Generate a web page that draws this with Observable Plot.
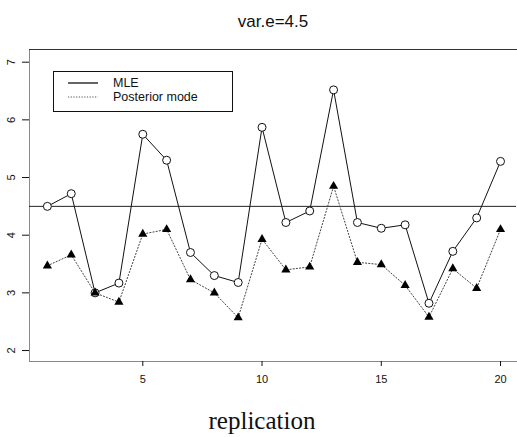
<!DOCTYPE html>
<html>
<head>
<meta charset="utf-8">
<script src="https://cdn.jsdelivr.net/npm/d3@7"></script>
<script src="https://cdn.jsdelivr.net/npm/@observablehq/plot@0.6"></script>
<style>
  html, body { margin: 0; padding: 0; background: #fff; }
  #wrap { position: relative; width: 517px; height: 437px; }
  #legend { position: absolute; left: 53px; top: 71px; width: 178px; height: 39px;
            border: 1.5px solid #111; background: #fff; font-family: "Liberation Sans", Arial, sans-serif;
            font-size: 12.5px; color: #111; }
  #legend .row { position: absolute; left: 0; height: 14px; }
  #legend svg { position: absolute; left: 14px; }
  #legend span { position: absolute; left: 59px; white-space: nowrap; line-height: 14px; }
</style>
</head>
<body>
<div id="wrap"></div>
<script>
const replication = [1,2,3,4,5,6,7,8,9,10,11,12,13,14,15,16,17,18,19,20];
const mle = [4.50,4.72,3.00,3.17,5.75,5.30,3.70,3.30,3.18,5.87,4.22,4.42,6.52,4.22,4.12,4.18,2.82,3.72,4.30,5.28];
const postMode = [3.47,3.66,3.00,2.84,4.02,4.10,3.23,3.00,2.57,3.93,3.40,3.45,4.85,3.53,3.49,3.13,2.58,3.42,3.08,4.10];
const trueValue = [4.5];
const xTicks = [5,10,15,20];
const yTicks = [2,3,4,5,6,7];
const titleText = "var.e=4.5";
const xLabel = "replication";
const seriesNames = ["MLE", "Posterior mode"];

const mleData = replication.map((r,i) => ({r, v: mle[i]}));
const pmData = replication.map((r,i) => ({r, v: postMode[i]}));

const chart = Plot.plot({
  width: 517,
  height: 437,
  marginTop: 49,
  marginBottom: 76,
  marginLeft: 29,
  marginRight: 1,
  style: {fontFamily: "'Liberation Sans', Arial, sans-serif", fontSize: "11px", color: "#111", background: "#fff"},
  x: {domain: [0.25, 20.67]},
  y: {domain: [1.81, 7.22]},
  marks: [
    Plot.frame({anchor: "left", stroke: "#888"}),
    Plot.frame({anchor: "bottom", stroke: "#888"}),
    Plot.frame({anchor: "top", stroke: "#333"}),
    Plot.axisX({ticks: xTicks, tickSize: 5, tickPadding: 9, label: null, fontSize: 11, tickFormat: d => String(d)}),
    Plot.axisY({ticks: yTicks, tickSize: 7, tickPadding: 8, tickRotate: -90, label: null, fontSize: 11, tickFormat: d => String(d)}),
    Plot.ruleY(trueValue, {stroke: "#222", strokeWidth: 1}),
    Plot.line(mleData, {x: "r", y: "v", stroke: "#111", strokeWidth: 1}),
    Plot.dot(mleData, {x: "r", y: "v", r: 4, stroke: "#111", fill: "white", strokeWidth: 1}),
    Plot.line(pmData, {x: "r", y: "v", stroke: "#444", strokeWidth: 1, strokeDasharray: "1.2,2"}),
    Plot.dot(pmData, {x: "r", y: "v", symbol: "triangle", r: 3.4, fill: "#000", stroke: "none"}),
    Plot.text([titleText], {frameAnchor: "top", dy: -28, fontSize: 17, fill: "#111", lineAnchor: "middle"}),
    Plot.text([xLabel], {frameAnchor: "bottom", dx: -11, dy: 59, fontSize: 25, fill: "#111", lineAnchor: "middle", fontFamily: "'Liberation Serif', 'Times New Roman', serif"})
  ]
});

const wrap = document.getElementById("wrap");
wrap.appendChild(chart);

const legend = document.createElement("div");
legend.id = "legend";
legend.innerHTML = `
  <div class="row" style="top:4px;width:100%">
    <svg width="32" height="14"><line x1="0" y1="7" x2="30" y2="7" stroke="#111" stroke-width="1.3"/></svg>
    <span>${seriesNames[0]}</span>
  </div>
  <div class="row" style="top:18px;width:100%">
    <svg width="32" height="14"><line x1="0" y1="7" x2="30" y2="7" stroke="#555" stroke-width="1" stroke-dasharray="1.2,1.5"/></svg>
    <span>${seriesNames[1]}</span>
  </div>`;
wrap.appendChild(legend);
</script>
</body>
</html>
